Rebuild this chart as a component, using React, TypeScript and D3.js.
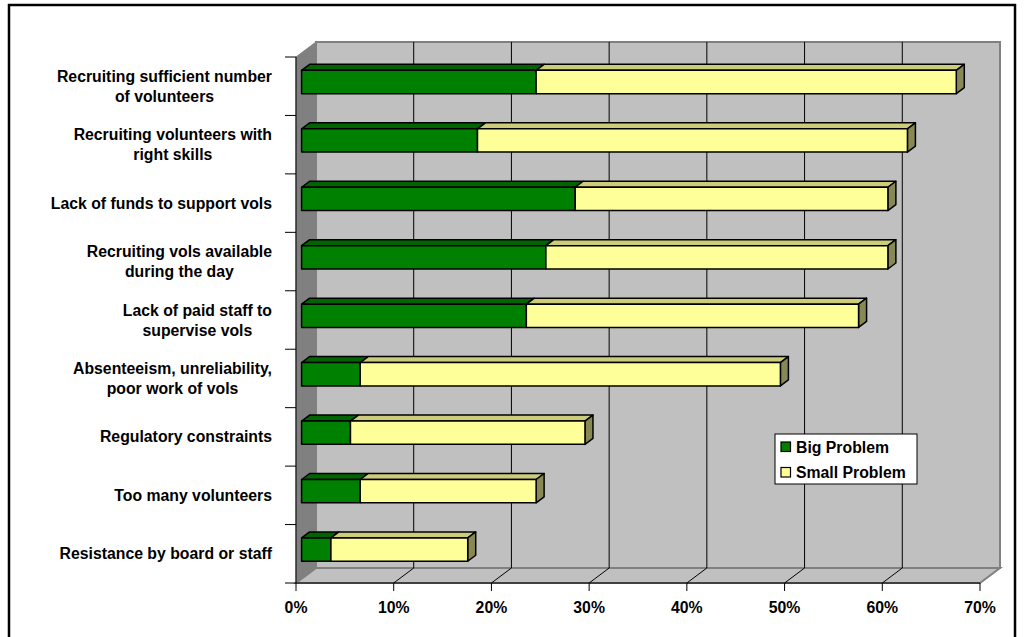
import React from "react";
import * as d3 from "d3";

const categories: string[][] = [
  ["Recruiting sufficient number", "of volunteers"],
  ["Recruiting volunteers with", "right skills"],
  ["Lack of funds to support vols"],
  ["Recruiting vols available", "during the day"],
  ["Lack of paid staff to", "supervise vols"],
  ["Absenteeism, unreliability,", "poor work of vols"],
  ["Regulatory constraints"],
  ["Too many volunteers"],
  ["Resistance by board or staff"],
];
const bigProblem = [24, 18, 28, 25, 23, 6, 5, 6, 3];
const smallProblem = [43, 44, 32, 35, 34, 43, 24, 18, 14];
const xTicks = [0, 10, 20, 30, 40, 50, 60, 70];
const seriesNames = ["Big Problem", "Small Problem"];

const FONT = "Arial, 'Liberation Sans', Helvetica, sans-serif";
const FS = 15.8;

const series = [
  { name: seriesNames[0], front: "#008000", top: "#006400", side: "#004d00" },
  { name: seriesNames[1], front: "#FFFF99", top: "#CCCC7A", side: "#888855" },
];

function measure(text: string, font: string): number {
  const c = document.createElement("canvas").getContext("2d");
  if (!c) return text.length * 8;
  c.font = font;
  return c.measureText(text).width;
}

export default function App() {
  const W = 1026, H = 637;
  const DX = 20, DY = -15;
  const x0 = 296, x1 = 980;
  const yTop = 57, yBot = 583;
  const x = d3.scaleLinear().domain([0, 70]).range([x0, x1]);
  const y = d3.scaleBand<number>().domain(d3.range(categories.length)).range([yTop, yBot]).paddingInner(0).paddingOuter(0);
  const bw = y.bandwidth();
  const barH = 23.3;
  const fFront = 0.28, fBack = 0.68;

  const pt = (px: number, py: number, f: number) => [px + DX * f, py + DY * f];
  const poly = (pts: number[][]) => pts.map((p) => p.join(",")).join(" ");

  const labelFont = `bold ${FS}px ${FONT}`;
  const labelRight = 272;

  return (
    <svg width={W} height={H} style={{ display: "block", position: "absolute", left: 0, top: 0 }}>
      <rect x={0} y={0} width={W} height={H} fill="#fff" />
      <rect x={9} y={5} width={1006} height={H + 10} fill="none" stroke="#000" strokeWidth={2.5} />
      {/* back wall */}
      <polygon
        points={poly([pt(x0, yTop, 1), pt(x1, yTop, 1), pt(x1, yBot, 1), pt(x0, yBot, 1)])}
        fill="#C0C0C0" stroke="#808080" strokeWidth={2}
      />
      {/* left wall */}
      <polygon
        points={poly([[x0, yTop], pt(x0, yTop, 1), pt(x0, yBot, 1), [x0, yBot]])}
        fill="#808080" stroke="#808080" strokeWidth={1}
      />
      {/* floor */}
      <polygon
        points={poly([[x0, yBot], pt(x0, yBot, 1), pt(x1, yBot, 1), [x1, yBot]])}
        fill="#C0C0C0" stroke="#808080" strokeWidth={2}
      />
      {/* gridlines */}
      {xTicks.slice(1, -1).map((t) => {
        const a = pt(x(t), yTop, 1), b = pt(x(t), yBot, 1);
        return (
          <g key={t}>
            <line x1={a[0]} y1={a[1]} x2={b[0]} y2={b[1]} stroke="#000" strokeWidth={1} />
            <line x1={b[0]} y1={b[1]} x2={x(t)} y2={yBot} stroke="#000" strokeWidth={1} />
          </g>
        );
      })}
      {/* axes */}
      <line x1={x0} y1={yTop} x2={x0} y2={yBot} stroke="#000" strokeWidth={1} />
      <line x1={x0} y1={yBot} x2={x1} y2={yBot} stroke="#000" strokeWidth={1} />
      {d3.range(categories.length + 1).map((i) => {
        const yy = yTop + i * bw;
        return <line key={i} x1={285} y1={yy} x2={x0} y2={yy} stroke="#000" strokeWidth={1} />;
      })}
      {xTicks.map((t) => (
        <g key={t}>
          <line x1={x(t)} y1={yBot} x2={x(t)} y2={yBot + 8} stroke="#000" strokeWidth={1} />
          <text x={x(t)} y={613} textAnchor="middle" fontFamily={FONT} fontWeight="bold" fontSize={FS} fill="#000">
            {t}%
          </text>
        </g>
      ))}
      {/* bars */}
      {categories.map((_, i) => {
        const cy = (y(i) as number) + bw / 2;
        const vals = [bigProblem[i], smallProblem[i]];
        let acc = 0;
        const segs = vals.map((v, s) => {
          const a = acc, b = acc + v;
          acc = b;
          const fy0 = cy - barH / 2, fy1 = cy + barH / 2;
          const A = pt(x(a), fy0, fFront), B = pt(x(b), fy0, fFront);
          const C = pt(x(b), fy1, fFront), D = pt(x(a), fy1, fFront);
          const Ab = pt(x(a), fy0, fBack), Bb = pt(x(b), fy0, fBack), Cb = pt(x(b), fy1, fBack);
          const isLast = s === vals.length - 1;
          return (
            <g key={s}>
              <polygon points={poly([A, Ab, Bb, B])} fill={series[s].top} stroke="#000" strokeWidth={1.5} strokeLinejoin="round" />
              {isLast && (
                <polygon points={poly([B, Bb, Cb, C])} fill={series[s].side} stroke="#000" strokeWidth={1.5} strokeLinejoin="round" />
              )}
              <polygon points={poly([A, B, C, D])} fill={series[s].front} stroke="#000" strokeWidth={1.5} strokeLinejoin="round" />
            </g>
          );
        });
        return <g key={i}>{segs}</g>;
      })}
      {/* category labels */}
      {categories.map((lines, i) => {
        const cy = (y(i) as number) + bw / 2;
        const maxW = Math.max(...lines.map((l) => measure(l, labelFont)));
        const cx = labelRight - maxW / 2;
        const lh = 20;
        const start = cy - ((lines.length - 1) * lh) / 2;
        return (
          <g key={i}>
            {lines.map((l, k) => (
              <text key={k} x={cx} y={start + k * lh} dy="0.35em" textAnchor="middle" fontFamily={FONT} fontWeight="bold" fontSize={FS} fill="#000">
                {l}
              </text>
            ))}
          </g>
        );
      })}
      {/* legend */}
      <rect x={775} y={434} width={142} height={50} fill="#fff" stroke="#000" strokeWidth={1} />
      {series.map((s, k) => (
        <g key={k}>
          <rect x={781} y={442 + k * 25.5} width={9.5} height={9.5} fill={s.front} stroke="#000" strokeWidth={1.2} />
          <text x={796} y={452.5 + k * 25.5} fontFamily={FONT} fontWeight="bold" fontSize={FS} fill="#000">
            {s.name}
          </text>
        </g>
      ))}
    </svg>
  );
}
